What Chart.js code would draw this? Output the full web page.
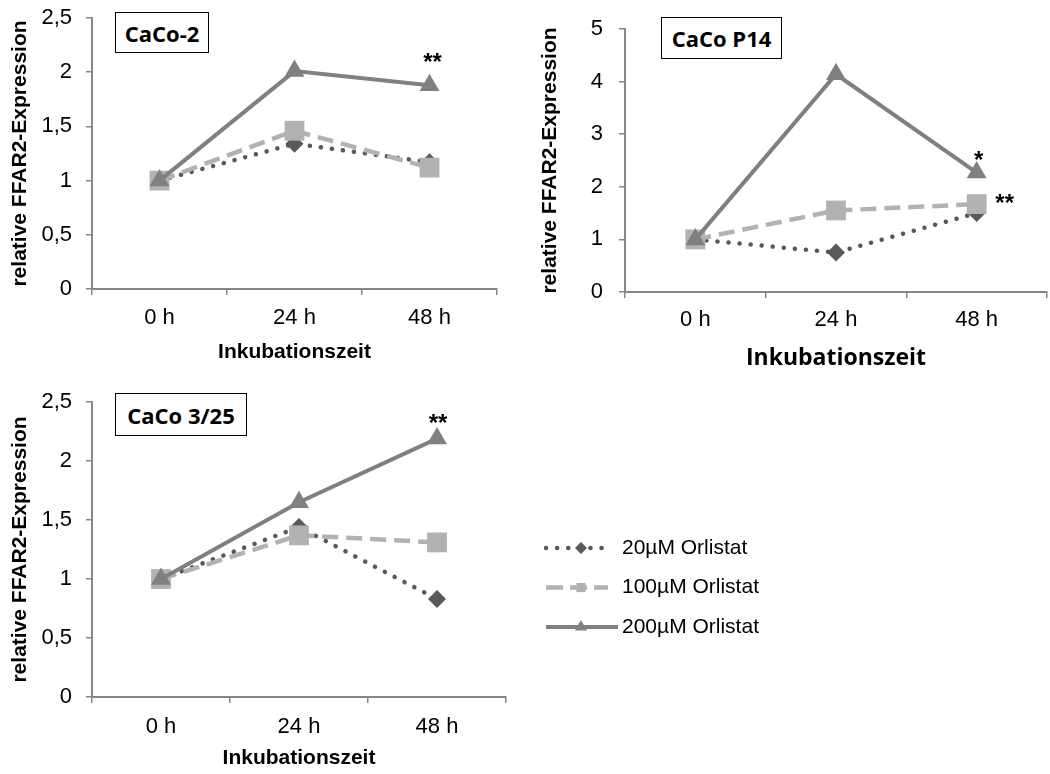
<!DOCTYPE html>
<html>
<head>
<meta charset="utf-8">
<script src="https://cdn.jsdelivr.net/npm/chart.js@4.4.1/dist/chart.umd.min.js"></script>
<style>
  body { margin: 0; background: #fff; width: 1050px; height: 774px; position: relative; overflow: hidden; }
  .panel { position: absolute; }
  .panel canvas { display: block; }
  .tag {
    position: absolute; z-index: 2; box-sizing: border-box;
    border: 1.5px solid #000; background: #fff; color: #000;
    font: bold 22px "Open Sans", sans-serif;
    display: flex; align-items: center; justify-content: center;
  }
</style>
</head>
<body>
<div class="panel" style="left:0;top:0;width:515px;height:372px"><canvas id="caco2"></canvas></div>
<div class="panel" style="left:525px;top:0;width:536px;height:375px"><canvas id="p14"></canvas></div>
<div class="panel" style="left:0;top:380px;width:1050px;height:394px"><canvas id="c325"></canvas></div>
<div class="tag" style="left:115px;top:12px;width:94px;height:41px">CaCo-2</div>
<div class="tag" style="left:661px;top:17px;width:121px;height:42px">CaCo P14</div>
<div class="tag" style="left:115px;top:393px;width:132px;height:43px">CaCo 3/25</div>
<script>
// data
const hours = ['0 h', '24 h', '48 h'];
const seriesNames = ['20µM Orlistat', '100µM Orlistat', '200µM Orlistat'];

const caco2_20 = [1, 1.34, 1.17];
const caco2_100 = [1, 1.46, 1.12];
const caco2_200 = [1, 2.01, 1.88];

const p14_20 = [1, 0.75, 1.5];
const p14_100 = [1, 1.55, 1.67];
const p14_200 = [1, 4.14, 2.27];

const c325_20 = [1, 1.44, 0.83];
const c325_100 = [1, 1.37, 1.31];
const c325_200 = [1, 1.65, 2.19];

// significance marks
const caco2Sig = [{ label: '48 h', value: 1.88, text: '**' }];
const p14Sig = [{ label: '48 h', value: 2.27, text: '*' }, { label: '48 h', value: 1.67, text: '**' }];
const c325Sig = [{ label: '48 h', value: 2.19, text: '**' }];

const styles = [
  { color: '#595959', dash: [0.1, 11], width: 4.5, cap: 'round', point: 'rectRot', radius: 9, legendR: 6 },
  { color: '#b2b2b2', dash: [16, 8], width: 4.5, cap: 'butt', point: 'rect', radius: 14, legendR: 6.5 },
  { color: '#808080', dash: [], width: 4, cap: 'butt', point: 'triangle', radius: 11.5, legendR: 7 }
];
const axisGrey = '#868686';

function makeSets(values) {
  return values.map((data, i) => ({
    label: seriesNames[i],
    data: data,
    order: 2 - i,
    borderColor: styles[i].color,
    backgroundColor: styles[i].color,
    borderWidth: styles[i].width,
    borderDash: styles[i].dash,
    borderCapStyle: styles[i].cap,
    tension: 0,
    pointStyle: styles[i].point,
    pointRadius: styles[i].radius,
    pointBorderWidth: 0,
    pointBackgroundColor: styles[i].color
  }));
}

function makeScales(o) {
  return {
    x: {
      offset: true,
      grid: { drawOnChartArea: false, drawTicks: true, tickLength: 6, offset: true, color: axisGrey, lineWidth: 1.5 },
      border: { color: axisGrey, width: 2 },
      ticks: { color: '#000', font: { family: 'Arial', size: 22 }, padding: o.xPad },
      title: { display: true, text: 'Inkubationszeit', color: '#000', font: o.xTitleFont, padding: { top: 0, bottom: o.xTitlePad } },
      afterFit: s => { s.height = o.xHeight; s.paddingLeft = 0; s.paddingRight = 0; }
    },
    y: {
      min: 0,
      max: o.max,
      grid: { drawOnChartArea: false, tickLength: 6, color: axisGrey, lineWidth: 1.5 },
      border: { color: axisGrey, width: 2 },
      ticks: {
        stepSize: o.step, color: '#000', font: { family: 'Arial', size: 22 }, padding: o.yPad,
        callback: v => String(v).replace('.', ',')
      },
      title: { display: true, text: 'relative FFAR2-Expression', color: '#000', font: { family: 'Arial', size: 21, weight: 'bold' }, padding: { top: o.yTitlePad, bottom: 0 } },
      afterFit: s => { s.width = o.yWidth; s.paddingTop = 0; s.paddingBottom = 0; }
    }
  };
}

const sigPlugin = {
  id: 'sig',
  afterDatasetsDraw(chart, args, opts) {
    const { ctx, scales: { x, y } } = chart;
    ctx.save();
    ctx.font = 'bold 24px Arial';
    ctx.fillStyle = '#000';
    ctx.textAlign = 'center';
    ctx.textBaseline = 'alphabetic';
    opts.marks.forEach((m, i) => {
      const off = opts.offsets[i];
      ctx.fillText(m.text, x.getPixelForValue(hours.indexOf(m.label)) + off[0], y.getPixelForValue(m.value) + off[1]);
    });
    ctx.restore();
  }
};

function drawMarker(ctx, shape, x, y, r) {
  ctx.beginPath();
  if (shape === 'rectRot') {
    ctx.moveTo(x, y - r); ctx.lineTo(x + r, y); ctx.lineTo(x, y + r); ctx.lineTo(x - r, y);
  } else if (shape === 'rect') {
    const s = r * Math.SQRT1_2;
    ctx.rect(x - s, y - s, 2 * s, 2 * s);
  } else {
    ctx.moveTo(x, y - r);
    ctx.lineTo(x + r * 0.866, y + r / 2);
    ctx.lineTo(x - r * 0.866, y + r / 2);
  }
  ctx.closePath();
  ctx.fill();
}

// legend sits to the right of the last panel
const legendPlugin = {
  id: 'sideLegend',
  afterDraw(chart, args, opts) {
    const ctx = chart.ctx;
    ctx.save();
    seriesNames.forEach((name, i) => {
      const st = styles[i];
      const y = opts.top + i * opts.gap;
      ctx.strokeStyle = st.color;
      ctx.fillStyle = st.color;
      ctx.lineWidth = st.width;
      ctx.lineCap = st.cap;
      ctx.setLineDash(i === 0 ? [0.1, 11] : i === 1 ? [17, 7] : []);
      ctx.beginPath();
      ctx.moveTo(opts.x0, y);
      ctx.lineTo(i === 2 ? opts.x1 + 10 : opts.x1, y);
      ctx.stroke();
      ctx.setLineDash([]);
      drawMarker(ctx, st.point, opts.xm, y, st.legendR);
      ctx.fillStyle = '#000';
      ctx.font = '21px Arial';
      ctx.textBaseline = 'middle';
      ctx.fillText(name, opts.textX, y);
    });
    ctx.restore();
  }
};

function makeChart(id, values, scaleOpts, padding, sig, extra) {
  return new Chart(document.getElementById(id), {
    type: 'line',
    data: { labels: hours, datasets: makeSets(values) },
    options: {
      responsive: true,
      maintainAspectRatio: false,
      animation: false,
      layout: { padding: padding },
      plugins: {
        legend: { display: false },
        tooltip: { enabled: false },
        sig: sig,
        sideLegend: extra || false
      },
      scales: makeScales(scaleOpts)
    },
    plugins: extra ? [sigPlugin, legendPlugin] : [sigPlugin]
  });
}

makeChart('caco2', [caco2_20, caco2_100, caco2_200],
  { max: 2.5, step: 0.5, yWidth: 92, xHeight: 83, xPad: 10, xTitlePad: 7, yPad: 14, yTitlePad: 8,
    xTitleFont: { family: 'Arial', size: 21, weight: 'bold' } },
  { top: 18, right: 18, left: 0, bottom: 0 },
  { marks: caco2Sig, offsets: [[3, -15]] });

// the x axis keeps ~14px at its right edge, so this panel runs a little past the page
makeChart('p14', [p14_20, p14_100, p14_200],
  { max: 5, step: 1, yWidth: 100, xHeight: 83, xPad: 9, xTitlePad: 3, yPad: 16, yTitlePad: 13,
    xTitleFont: { family: 'Open Sans', size: 23, weight: 'bold' } },
  { top: 29, right: 0, left: 0, bottom: 0 },
  { marks: p14Sig, offsets: [[2, -5], [28, 7]] });

makeChart('c325', [c325_20, c325_100, c325_200],
  { max: 2.5, step: 0.5, yWidth: 92, xHeight: 77, xPad: 11, xTitlePad: 3, yPad: 14, yTitlePad: 8,
    xTitleFont: { family: 'Arial', size: 21, weight: 'bold' } },
  { top: 22, right: 544, left: 0, bottom: 0 },
  { marks: c325Sig, offsets: [[1, -8]] },
  { x0: 546, x1: 608, xm: 581, textX: 622, top: 168, gap: 39.5 });
</script>
</body>
</html>
